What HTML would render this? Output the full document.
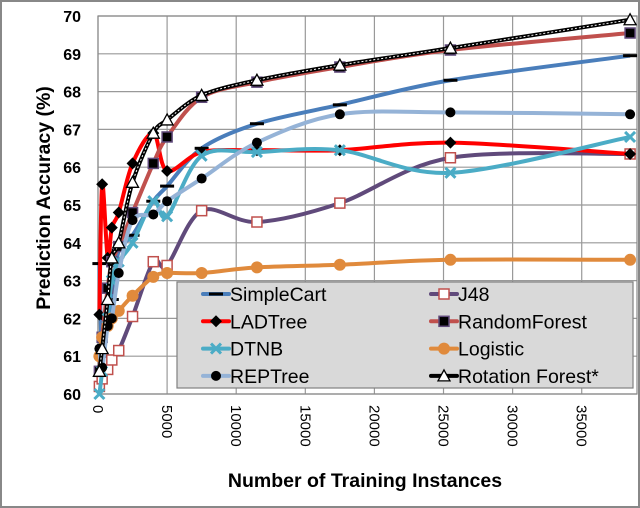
<!DOCTYPE html>
<html><head><meta charset="utf-8"><style>
html,body{margin:0;padding:0;background:#fff}
svg{display:block;font-family:"Liberation Sans",sans-serif}
</style></head><body>
<svg id="chart" width="640" height="508" viewBox="0 0 640 508">
<rect x="1" y="1" width="638" height="506" fill="#fff" stroke="#888" stroke-width="2"/>
<g id="grid"></g>
<g id="series"></g>
<g id="axes"></g>
<text x="365" y="487" text-anchor="middle" font-size="19.5" font-weight="bold">Number of Training Instances</text>
<text transform="translate(50,198) rotate(-90)" text-anchor="middle" font-size="19.5" font-weight="bold">Prediction Accuracy (%)</text>
<g id="legend"></g>
</svg>
<script>
const xValues = [100, 300, 700, 1000, 1500, 2500, 4000, 5000, 7500, 11500, 17500, 25500, 38500];
const yTicks = [60,61,62,63,64,65,66,67,68,69,70];
const xTicks = [0,5000,10000,15000,20000,25000,30000,35000];
const seriesNames = ["SimpleCart","J48","LADTree","RandomForest","DTNB","Logistic","REPTree","Rotation Forest*"];
const simpleCart = [63.45,61.0,62.0,62.5,63.8,64.2,65.1,65.5,66.5,67.15,67.65,68.3,68.95];
const j48 = [60.2,60.4,60.65,60.9,61.15,62.05,63.5,63.4,64.85,64.55,65.05,66.25,66.35];
const ladTree = [62.1,65.55,63.6,64.4,64.8,66.1,66.9,65.9,66.4,66.45,66.45,66.65,66.35];
const randomForest = [60.6,61.5,62.8,63.5,63.9,64.8,66.1,66.8,67.85,68.25,68.65,69.1,69.55];
const dtnb = [60.0,60.6,62.0,63.0,63.5,64.0,65.1,64.7,66.3,66.4,66.45,65.85,66.8];
const logistic = [61.0,61.5,61.8,62.0,62.2,62.6,63.1,63.2,63.2,63.35,63.42,63.55,63.55];
const repTree = [61.2,60.7,61.8,62.0,63.2,64.6,64.75,65.1,65.7,66.65,67.4,67.45,67.4];
const rotationForest = [60.6,61.2,62.5,63.6,64.0,65.6,66.9,67.25,67.9,68.3,68.7,69.15,69.9];

const NS="http://www.w3.org/2000/svg";
const X0=98,X1=637,Y0=394,Y1=16,XMAX=39000;
const xs=v=>X0+(X1-X0)*v/XMAX;
const ys=v=>Y0-(Y0-Y1)*(v-60)/10;
function mk(tag,attrs,parent){const e=document.createElementNS(NS,tag);for(const k in attrs)e.setAttribute(k,attrs[k]);parent.appendChild(e);return e;}
const grid=document.getElementById('grid'),axes=document.getElementById('axes'),ser=document.getElementById('series'),leg=document.getElementById('legend');
yTicks.forEach(t=>{
  const l=mk('line',{x1:X0,x2:X1,y1:ys(t),y2:ys(t),stroke:'#999','stroke-width':1.2},grid);
  
  
  const tx=mk('text',{x:81,y:ys(t)+6,'text-anchor':'end','font-size':16,'font-weight':'bold'},axes);
  tx.textContent=t;
  
  
});
xTicks.forEach(t=>{
  const l=mk('line',{x1:xs(t),x2:xs(t),y1:Y1,y2:Y0,stroke:'#999','stroke-width':1.2},grid);
  
  
  const tx=mk('text',{transform:`translate(${xs(t)-5},405) rotate(90)`,'font-size':15},axes);
  tx.textContent=t;
  
  
});
const r=mk('rect',{x:X0,y:Y1,width:X1-X0,height:Y0-Y1,fill:'none',stroke:'#888','stroke-width':1.2},grid);



function smooth(pts){let d=`M${pts[0][0]},${pts[0][1]}`;for(let i=0;i<pts.length-1;i++){const p0=pts[i-1]||pts[i],p1=pts[i],p2=pts[i+1],p3=pts[i+2]||p2;const t=0.16;d+=` C${p1[0]+(p2[0]-p0[0])*t},${p1[1]+(p2[1]-p0[1])*t} ${p2[0]-(p3[0]-p1[0])*t},${p2[1]-(p3[1]-p1[1])*t} ${p2[0]},${p2[1]}`;}return d;}
function marker(type,x,y,g,s){
  let e;
  if(type==='dash')e=mk('rect',{x:x-7,y:y-1.5,width:14,height:3,fill:'#000'},g);
  else if(type==='sq')e=mk('rect',{x:x-5,y:y-5,width:10,height:10,fill:s.mf,stroke:s.ms,'stroke-width':1.5},g);
  else if(type==='dia')e=mk('path',{d:`M${x},${y-6}L${x+6},${y}L${x},${y+6}L${x-6},${y}Z`,fill:'#000'},g);
  else if(type==='x')e=mk('path',{d:`M${x-5},${y-5}L${x+5},${y+5}M${x+5},${y-5}L${x-5},${y+5}`,stroke:s.c,'stroke-width':3},g);
  else if(type==='dot')e=mk('circle',{cx:x,cy:y,r:s.r||5,fill:s.mf},g);
  else if(type==='tri')e=mk('path',{d:`M${x},${y-6}L${x+6},${y+5}L${x-6},${y+5}Z`,fill:'#fff',stroke:'#000','stroke-width':1.3},g);
  return e;
}
const S=[
 {n:'SimpleCart',d:simpleCart,c:'#4a7ebb',m:'dash',col:0,row:0},
 {n:'J48',d:j48,c:'#604a7b',m:'sq',mf:'#fff',ms:'#c0504d',col:1,row:0},
 {n:'LADTree',d:ladTree,c:'#ff0000',m:'dia',col:0,row:1},
 {n:'RandomForest',d:randomForest,c:'#c0504d',m:'sq',mf:'#000',ms:'#604a7b',col:1,row:1},
 {n:'DTNB',d:dtnb,c:'#4bacc6',m:'x',col:0,row:2},
 {n:'Logistic',d:logistic,c:'#e08a3c',m:'dot',mf:'#e08a3c',r:6,col:1,row:2},
 {n:'REPTree',d:repTree,c:'#95b3d7',m:'dot',mf:'#000',col:0,row:3},
 {n:'Rotation Forest*',d:rotationForest,c:'#000',m:'tri',col:1,row:3}
];
S.forEach(s=>{
  const g=mk('g',{},ser);
  
  
  const pts=xValues.map((v,i)=>[xs(v),ys(s.d[i])]);
  const p=mk('path',{d:smooth(pts),fill:'none',stroke:s.c,'stroke-width':4,'stroke-linejoin':'round'},g);
  
  
  if(s.m==='tri'){mk('path',{d:smooth(pts),fill:'none',stroke:'#fff','stroke-width':1,'stroke-dasharray':'2 2'},g);}
  pts.forEach(q=>{
    const e=marker(s.m,q[0],q[1],g,s);
    
    
  });
});
const lb=mk('rect',{x:177,y:282,width:456,height:106,fill:'#d9d9d9',stroke:'#808080','stroke-width':1.2},leg);


S.forEach(s=>{
  const g=mk('g',{},leg);
  
  
  const lx=s.col?431:203,y=294+s.row*27.3;
  mk('line',{x1:lx,x2:lx+26,y1:y,y2:y,stroke:s.c,'stroke-width':4,'stroke-linecap':'round'},g);
  marker(s.m,lx+13,y,g,s);
  const t=mk('text',{x:lx+27,y:y+7,'font-size':19.5},g);
  t.textContent=s.n;
});
</script>
</body></html>
